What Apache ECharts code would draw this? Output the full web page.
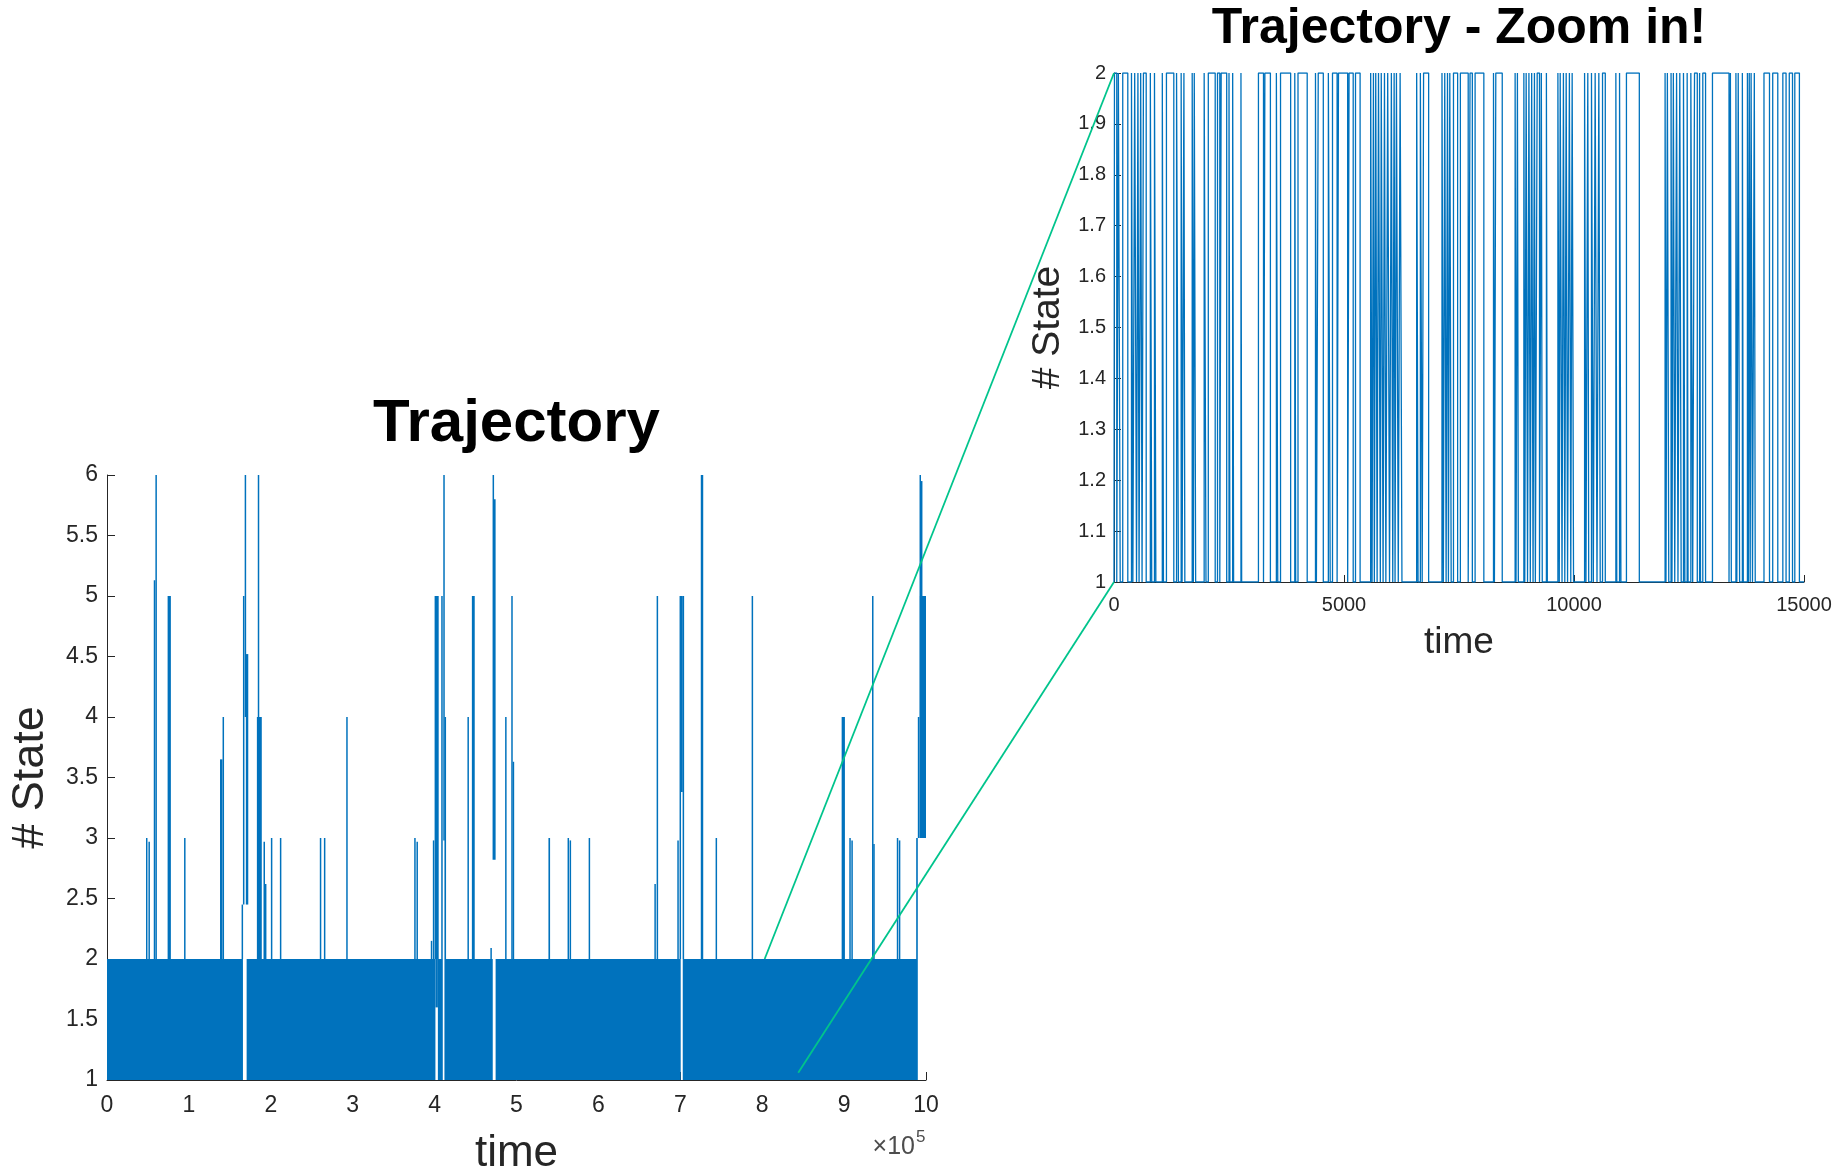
<!DOCTYPE html>
<html>
<head>
<meta charset="utf-8">
<script src="https://cdn.jsdelivr.net/npm/echarts@6/dist/echarts.min.js"></script>
<style>
  html, body { margin: 0; padding: 0; background: #ffffff; }
  #chart { width: 1847px; height: 1171px; }
</style>
</head>
<body>
<div id="chart"></div>
<script>
// ---- Full trajectory (0 .. 1e6) ----
// Windows of rapid 1 <-> 2 switching: [start, end, lowState, highState]
const switchingBands = [
  [0, 166000, 1, 2],
  [170500, 401000, 1, 2],
  [401000, 404000, 1.6, 2],
  [404000, 410000, 1, 2],
  [412000, 471000, 1, 2],
  [474500, 700500, 1, 2],
  [703000, 990000, 1, 2]
];

// Excursions to higher states: [start, end, lowState, highState]
const excursions = [
  [48500, 48500, 2, 3],
  [51500, 51500, 2, 2.97],
  [57500, 58500, 2, 5.13],
  [60000, 60000, 2, 6],
  [74000, 78000, 2, 5],
  [95000, 95000, 2, 3],
  [138000, 141000, 2, 3.65],
  [142000, 142000, 2, 4],
  [164500, 166000, 2, 2.45],
  [166000, 167800, 2.45, 5],
  [169000, 169000, 4, 6],
  [169500, 172500, 2.45, 4.52],
  [183000, 189000, 2, 4],
  [185000, 185000, 4, 6],
  [192000, 192000, 2, 2.97],
  [193500, 194000, 2, 2.62],
  [201000, 201000, 2, 3],
  [212000, 212000, 2, 3],
  [260500, 261000, 2, 3],
  [265500, 266000, 2, 3],
  [293000, 293000, 2, 4],
  [376000, 376000, 2, 3],
  [378500, 379000, 2, 2.97],
  [396000, 396500, 2, 2.15],
  [398500, 399000, 2, 2.98],
  [400000, 405000, 2, 5],
  [408500, 409500, 2, 5],
  [411500, 411500, 2.98, 6],
  [412000, 414000, 2, 4],
  [441000, 441000, 2, 4],
  [445500, 449000, 2, 5],
  [469000, 469000, 2, 2.09],
  [471700, 471700, 2.82, 6],
  [472500, 474500, 2.82, 5.8],
  [487000, 487000, 2, 4],
  [494500, 494500, 2, 5],
  [496000, 496500, 2, 3.63],
  [539000, 541000, 2, 3],
  [563000, 563500, 2, 3],
  [565500, 566000, 2, 2.98],
  [589000, 589000, 2, 3],
  [669000, 669500, 2, 2.62],
  [672000, 672000, 2, 5],
  [697000, 697500, 2, 2.98],
  [699500, 700500, 2, 5],
  [700500, 703000, 3.38, 5],
  [703000, 704500, 2, 5],
  [725000, 728000, 2, 6],
  [744000, 744000, 2, 3],
  [788000, 788000, 2, 5],
  [897000, 901000, 2, 4],
  [907000, 907500, 2, 3],
  [909500, 910000, 2, 2.98],
  [935000, 935000, 2, 5],
  [936000, 937000, 2, 2.95],
  [965000, 965500, 2, 3],
  [967500, 968000, 2, 2.98],
  [988000, 990000, 2, 3],
  [990000, 992000, 3, 4],
  [992000, 1000000, 3, 5],
  [993000, 993000, 5, 6],
  [994500, 995000, 5, 5.95]
];

// ---- First 15000 steps ----
// Time windows spent in state 2 (state 1 otherwise): [enter, leave]
const zoomState2 = [
  [10, 60], [95, 135], [190, 300],
  [380, 410], [450, 490], [520, 545], [580, 610], [640, 700],
  [790, 820], [880, 910],
  [1050, 1075], [1140, 1300], [1360, 1400],
  [1460, 1480], [1520, 1540],
  [1700, 1725], [1745, 1775],
  [1960, 2000], [2050, 2200], [2250, 2300], [2330, 2450],
  [2500, 2520], [2580, 2600],
  [2760, 2775],
  [3140, 3250], [3280, 3400],
  [3530, 3560], [3620, 3840],
  [3930, 3950], [4000, 4200],
  [4380, 4400], [4440, 4550],
  [4660, 4700], [4750, 4850], [4880, 5080], [5110, 5200], [5250, 5350],
  [5580, 5610], [5640, 5660], [5690, 5720], [5750, 5790], [5810, 5850],
  [5880, 5910], [5950, 5990], [6030, 6060], [6090, 6110], [6140, 6180], [6220, 6260],
  [6580, 6610], [6660, 6700], [6730, 6840],
  [7130, 7160], [7190, 7220], [7250, 7270], [7300, 7330], [7380, 7470],
  [7530, 7700], [7740, 7790], [7850, 8040],
  [8250, 8270], [8300, 8440],
  [8720, 8740], [8770, 8790],
  [8910, 8930], [8960, 8990], [9020, 9050], [9080, 9110], [9140, 9160],
  [9200, 9250], [9290, 9310], [9400, 9420],
  [9650, 9680], [9700, 9740], [9770, 9800], [9830, 9860], [9900, 9930], [9960, 9990],
  [10230, 10260], [10300, 10320], [10380, 10420], [10460, 10500], [10540, 10570], [10620, 10680],
  [10910, 10930], [10990, 11020],
  [11140, 11420],
  [11980, 12000], [12030, 12060], [12110, 12130], [12160, 12190], [12230, 12260],
  [12300, 12330], [12380, 12410], [12460, 12480], [12540, 12580], [12620, 12680],
  [12730, 12750], [12800, 12860],
  [13010, 13370], [13400, 13420], [13520, 13540], [13570, 13600], [13660, 13680],
  [13770, 13790], [13810, 13830], [13850, 13880], [13920, 13940],
  [14130, 14250], [14320, 14430],
  [14540, 14610], [14680, 14750], [14800, 14900]
];
const zoomRange = [0, 15000];

// Zoom connectors: points on the full plot -> corners of the zoomed plot
const connectorFrom = [[803000, 2], [844000, 1.06]];
const connectorTo = [[0, 2], [0, 1]];

// Tick settings
const fullTicks = { xMin: 0, xMax: 1000000, xStep: 100000, yMin: 1, yMax: 6, yStep: 0.5 };
const zoomTicks = { yMin: 1, yMax: 2, yStep: 0.1, xStep: 5000 };

// ---- Styling ----
const BLUE = '#0072BD';
const AXIS = '#262626';
const GREEN = '#00c48c';
const FONT = '"Liberation Sans", Arial, Helvetica, sans-serif';

// Build the step path of the zoomed trajectory from its state-2 windows
const zoomPath = [[zoomRange[0], 1]];
zoomState2.forEach(function (w) {
  zoomPath.push([w[0], 1], [w[0], 2], [w[1], 2], [w[1], 1]);
});
zoomPath.push([zoomRange[1], 1]);

function renderSpan(params, api) {
  const p0 = api.coord([api.value(0), api.value(3)]);
  const p1 = api.coord([api.value(1), api.value(2)]);
  let x = p0[0];
  let w = p1[0] - p0[0];
  if (w < 1.5) { x = (p0[0] + p1[0]) / 2 - 0.75; w = 1.5; }
  return {
    type: 'rect',
    shape: { x: x, y: p0[1], width: w, height: p1[1] - p0[1] },
    style: { fill: BLUE }
  };
}

function axisCommon(extra) {
  return Object.assign({
    type: 'value',
    splitLine: { show: false },
    axisLine: { show: true, onZero: false, lineStyle: { color: AXIS, width: 1 } },
    axisTick: { show: true, inside: true, length: 8, lineStyle: { color: AXIS, width: 1 } },
    nameLocation: 'middle',
    nameTextStyle: { color: AXIS, fontFamily: FONT }
  }, extra);
}

const chart = echarts.init(document.getElementById('chart'), null, { renderer: 'canvas' });

chart.setOption({
  animation: false,
  backgroundColor: '#ffffff',
  grid: [
    { left: 107, top: 475, width: 819, height: 605, outerBoundsMode: 'none' },
    { left: 1114, top: 73, width: 690, height: 509, outerBoundsMode: 'none' }
  ],
  xAxis: [
    axisCommon({
      gridIndex: 0, min: fullTicks.xMin, max: fullTicks.xMax, interval: fullTicks.xStep,
      name: 'time', nameGap: 52,
      nameTextStyle: { color: AXIS, fontFamily: FONT, fontSize: 44 },
      axisLabel: { color: AXIS, fontFamily: FONT, fontSize: 23, margin: 14,
        formatter: function (v) { return String(Math.round(v / 1e5)); } }
    }),
    axisCommon({
      gridIndex: 1, min: zoomRange[0], max: zoomRange[1], interval: zoomTicks.xStep,
      name: 'time', nameGap: 42,
      axisTick: { show: true, inside: true, length: 7, lineStyle: { color: AXIS, width: 1 } },
      nameTextStyle: { color: AXIS, fontFamily: FONT, fontSize: 37 },
      axisLabel: { color: AXIS, fontFamily: FONT, fontSize: 20, margin: 13,
        formatter: function (v) { return String(Math.round(v)); } }
    })
  ],
  yAxis: [
    axisCommon({
      gridIndex: 0, min: fullTicks.yMin, max: fullTicks.yMax, interval: fullTicks.yStep,
      name: '# State', nameGap: 54, nameRotate: 90,
      nameTextStyle: { color: AXIS, fontFamily: FONT, fontSize: 45 },
      axisLabel: { color: AXIS, fontFamily: FONT, fontSize: 23, margin: 9 }
    }),
    axisCommon({
      gridIndex: 1, min: zoomTicks.yMin, max: zoomTicks.yMax, interval: zoomTicks.yStep,
      name: '# State', nameGap: 46, nameRotate: 90,
      axisTick: { show: true, inside: true, length: 7, lineStyle: { color: AXIS, width: 1 } },
      nameTextStyle: { color: AXIS, fontFamily: FONT, fontSize: 39 },
      axisLabel: { color: AXIS, fontFamily: FONT, fontSize: 20, margin: 8,
        formatter: function (v) { return String(Math.round(v * 10) / 10); } }
    })
  ],
  series: [
    {
      name: 'switching', type: 'custom', xAxisIndex: 0, yAxisIndex: 0,
      renderItem: renderSpan, data: switchingBands, clip: true,
      encode: { x: [0, 1], y: [2, 3] }, silent: true
    },
    {
      name: 'excursions', type: 'custom', xAxisIndex: 0, yAxisIndex: 0,
      renderItem: renderSpan, data: excursions, clip: true,
      encode: { x: [0, 1], y: [2, 3] }, silent: true
    },
    {
      name: 'zoom', type: 'line', xAxisIndex: 1, yAxisIndex: 1,
      data: zoomPath, showSymbol: false, symbol: 'none', clip: true,
      lineStyle: { color: BLUE, width: 1.3 }, silent: true
    }
  ]
});

// Titles, exponent label and zoom connectors placed from axis pixel positions
function px(gridIdx, pt) {
  return chart.convertToPixel({ xAxisIndex: gridIdx, yAxisIndex: gridIdx }, pt);
}
const a0 = px(0, connectorFrom[0]), b0 = px(1, connectorTo[0]);
const a1 = px(0, connectorFrom[1]), b1 = px(1, connectorTo[1]);
const fullLeft = px(0, [fullTicks.xMin, fullTicks.yMax]);
const fullRight = px(0, [fullTicks.xMax, fullTicks.yMin]);
const zoomLeft = px(1, [zoomRange[0], zoomTicks.yMax]);
const zoomRight = px(1, [zoomRange[1], zoomTicks.yMin]);

chart.setOption({
  graphic: [
    {
      type: 'text', z: 50,
      x: (fullLeft[0] + fullRight[0]) / 2, y: fullLeft[1] - 51,
      style: { text: 'Trajectory', font: 'bold 60px ' + FONT, fill: '#000000',
        align: 'center', verticalAlign: 'middle' }
    },
    {
      type: 'text', z: 50,
      x: (zoomLeft[0] + zoomRight[0]) / 2, y: zoomLeft[1] - 44,
      style: { text: 'Trajectory - Zoom in!', font: 'bold 50px ' + FONT, fill: '#000000',
        align: 'center', verticalAlign: 'middle' }
    },
    {
      type: 'text', z: 50,
      x: fullRight[0] - 11, y: fullRight[1] + 67,
      style: { text: '\u00d710', font: '25px ' + FONT, fill: '#4d4d4d',
        align: 'right', verticalAlign: 'middle' }
    },
    {
      type: 'text', z: 50,
      x: fullRight[0] - 10, y: fullRight[1] + 57,
      style: { text: '5', font: '17px ' + FONT, fill: '#4d4d4d',
        align: 'left', verticalAlign: 'middle' }
    },
    {
      type: 'line', z: 60,
      shape: { x1: a0[0], y1: a0[1], x2: b0[0], y2: b0[1] },
      style: { stroke: GREEN, lineWidth: 1.8 }
    },
    {
      type: 'line', z: 60,
      shape: { x1: a1[0], y1: a1[1], x2: b1[0], y2: b1[1] },
      style: { stroke: GREEN, lineWidth: 1.8 }
    }
  ]
});
</script>
</body>
</html>
